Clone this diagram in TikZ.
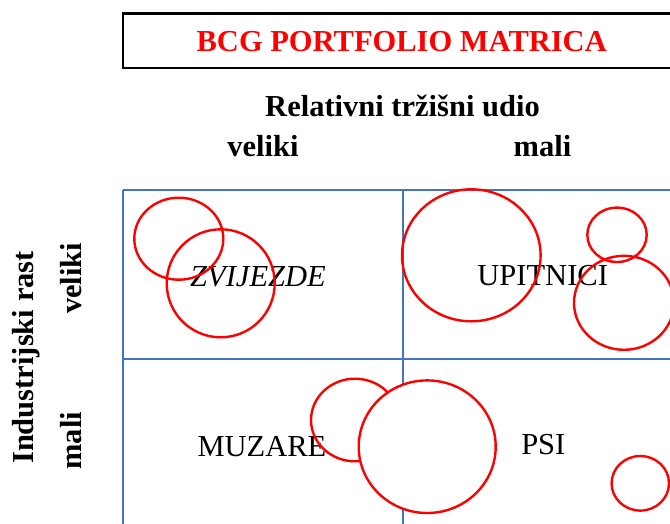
\documentclass[tikz,border=0pt]{standalone}
\usepackage{fontspec}
\setmainfont{Liberation Serif}
\usepackage{tikz}
\definecolor{gridblue}{RGB}{68,114,196}

\begin{document}
\begin{tikzpicture}[
		x = 1pt, y = -1pt,
		every node/.style = {font = \fontsize{30.5}{36}\selectfont, inner sep = 0pt, anchor = base},
		head/.style = {font = \fontsize{30.5}{36}\selectfont\bfseries},
		bubble/.style = {draw = red, line width = 2.4pt},
		cell/.style = {draw = gridblue, line width = 2pt}]

	\useasboundingbox (0,0) rectangle (670,523);
	\clip (0,0) rectangle (670,523);

	\draw[line width = 2.4pt] (122.7,13.3) rectangle (681,67.7);
	\node[head, text = red] (title) at (401.7,51) {BCG PORTFOLIO MATRICA};

	\node[head] (udio) at (402.5,116.7) {Relativni tržišni udio};
	\node[head] (udioveliki) at (263,156.7) {veliki};
	\node[head] (udiomali) at (542.5,156.7) {mali};

	\node[head, rotate = 90] (rast) at (33.3,357.5) {Industrijski rast};
	\node[head, rotate = 90] (rastveliki) at (81.7,278.3) {veliki};
	\node[head, rotate = 90] (rastmali) at (81.7,440.8) {mali};

	\draw[cell] (122.7,189.7) -- (700,189.7);
	\draw[cell] (122.7,359.3) -- (700,359.3);
	\draw[cell] (122.7,189.7) -- (122.7,540);
	\draw[cell] (402.7,189.7) -- (402.7,540);

	\node[font = \fontsize{30.5}{36}\selectfont\itshape] (zvijezde) at (258,286.7) {ZVIJEZDE};
	\node (upitnici) at (542.7,285) {UPITNICI};
	\node (muzare) at (262,456.7) {MUZARE};
	\node (psi) at (543.3,454.3) {PSI};

	\draw[bubble] (178.8,238.7) ellipse [x radius = 44.5, y radius = 41];
	\draw[bubble] (220.7,283.3) ellipse [x radius = 54, y radius = 54];
	\draw[bubble] (471.3,255.3) ellipse [x radius = 69.3, y radius = 66];
	\draw[bubble] (617,234.8) ellipse [x radius = 29.7, y radius = 27.2];
	\draw[bubble] (624,302.8) ellipse [x radius = 50, y radius = 47];
	\draw[bubble] (355,420) ellipse [x radius = 44, y radius = 41.3];
	\draw[bubble, fill = white] (427.2,446.7) ellipse [x radius = 68.5, y radius = 66.3];
	\draw[bubble] (640.3,483.3) ellipse [x radius = 28.7, y radius = 27.3];

\end{tikzpicture}
\end{document}
